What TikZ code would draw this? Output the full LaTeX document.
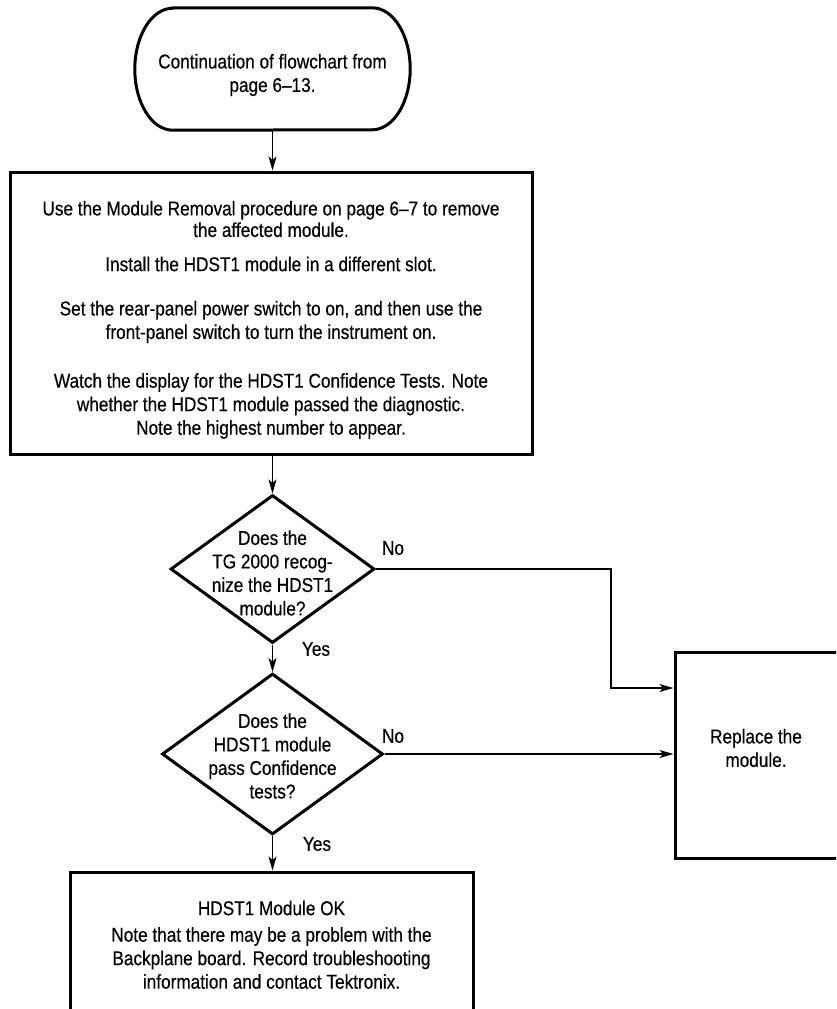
\documentclass[tikz,border=0pt]{standalone}
\usepackage{fontspec}
\setmainfont[FakeStretch=0.86,FakeBold=0.4]{Liberation Sans}
\usetikzlibrary{arrows.meta,shapes.geometric,calc}
\begin{document}
\begin{tikzpicture}[x=1pt,y=-1pt,
  box/.style={draw=black, line width=3pt, inner sep=0pt, rectangle},
  dia/.style={diamond, draw=black, line width=3pt, inner sep=0pt},
  txt/.style={align=center, font=\fontsize{20}{23.5}\selectfont, inner sep=0pt},
  conn/.style={line width=1.3pt, -{Stealth[length=14pt,width=8pt,inset=3.5pt]}},
  lbl/.style={font=\fontsize{20}{22}\selectfont, inner sep=0pt}
]
\clip (0,0) rectangle (836,1009);
\fill[white] (0,0) rectangle (836,1009);

% terminator
\node[minimum width=275pt, minimum height=122pt, inner sep=0pt] (start) at (272.5,69) {};
\draw[line width=3pt] ($(start.north west)+(38,0)$) -- ($(start.north east)+(-38,0)$)
  arc[start angle=90, end angle=-90, x radius=38pt, y radius=61pt]
  -- ($(start.south west)+(38,0)$)
  arc[start angle=270, end angle=90, x radius=38pt, y radius=61pt] -- cycle;
\node[txt] (starttxt) at (272.5,75) {Continuation of flowchart from\\page 6–13.};

% main box
\node[box, minimum width=522pt, minimum height=282pt] (main) at (271,313) {};
\node[txt, font=\fontsize{20}{21.5}\selectfont] (p1) at (271,219) {Use the Module Removal procedure on page 6–7 to remove\\the affected module.};
\node[txt] (p2) at (271,264) {Install the HDST1 module in a different slot.};
\node[txt] (p3) at (271,322) {Set the rear-panel power switch to on, and then use the\\front-panel switch to turn the instrument on.};
\node[txt] (p4) at (271,406) {Watch the display for the HDST1 Confidence Tests. Note\\whether the HDST1 module passed the diagnostic.\\Note the highest number to appear.};

% diamonds
\node[dia, minimum width=204pt, minimum height=148pt] (d1) at (272.5,569) {};
\node[txt] (t1) at (272.5,573) {Does the\\TG 2000 recog-\\nize the HDST1\\module?};
\node[dia, minimum width=221pt, minimum height=161pt] (d2) at (272.5,754) {};
\node[txt] (t2) at (272.5,756) {Does the\\HDST1 module\\pass Confidence\\tests?};

% replace box
\node[box, minimum width=163pt, minimum height=206pt] (rep) at (756.5,755) {};
\node[txt] (reptxt) at (756,748) {Replace the\\module.};

% final box
\node[box, minimum width=403pt, minimum height=228pt] (fin) at (271.5,986) {};
\node[txt] (f1) at (271.5,908) {HDST1 Module OK};
\node[txt] (f2) at (271.5,958) {Note that there may be a problem with the\\Backplane board. Record troubleshooting\\information and contact Tektronix.};

% connectors
\draw[conn] (start.south) -- (start.south |- main.north);
\draw[conn] (d1.north |- main.south) -- (d1.north);
\draw[conn] (d1.south) -- (d2.north);
\draw[conn] (d2.south) -- (d2.south |- fin.north);
\coordinate (c1) at (611,688);
\draw[conn] (d1.east) -| (c1) -- (c1 -| rep.west);
\draw[conn] (d2.east) -- (d2.east -| rep.west);

% labels
\node[lbl] (no1) at (393,548) {No};
\node[lbl] (no2) at (393,736) {No};
\node[lbl] (yes1) at (316,649) {Yes};
\node[lbl] (yes2) at (317,844) {Yes};
\end{tikzpicture}
\end{document}
